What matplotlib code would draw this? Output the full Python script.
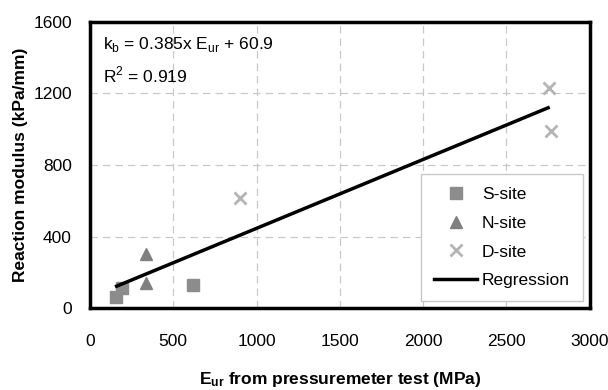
import numpy as np
import matplotlib.pyplot as plt

plt.rcParams['font.family'] = ['Liberation Sans', 'DejaVu Sans']
plt.rcParams['mathtext.fontset'] = 'custom'
plt.rcParams['mathtext.rm'] = 'Liberation Sans'
plt.rcParams['mathtext.bf'] = 'Liberation Sans:bold'

# data
s_x = [157, 193, 617]
s_y = [62, 113, 130]
n_x = [338, 338]
n_y = [300, 140]
d_x = [900, 2757, 2769]
d_y = [614, 1228, 991]
slope, intercept = 0.385, 60.9
reg_x = np.array([160, 2750])

fig = plt.figure(figsize=(6.08, 3.9), dpi=100)
ax = fig.add_axes([0.148, 0.21, 0.822, 0.734])

ax.plot(s_x, s_y, 's', color='#8c8c8c', ms=9, label='S-site', zorder=3)
ax.plot(n_x, n_y, '^', color='#808080', ms=9, label='N-site', zorder=3)
ax.plot(d_x, d_y, 'x', color='#b4b4b4', ms=9, mew=2, label='D-site', zorder=3)
ax.plot(reg_x, slope * reg_x + intercept, '-', color='black', lw=2.5,
        label='Regression', zorder=4)

ax.set_xlim(0, 3000)
ax.set_ylim(0, 1600)
ax.set_xticks(range(0, 3001, 500))
ax.set_yticks(range(0, 1601, 400))
ax.grid(True, ls=(0, (6, 4)), color='#c8c8c8', lw=0.9)
ax.set_axisbelow(True)
for sp in ax.spines.values():
    sp.set_linewidth(2.5)
ax.tick_params(length=0, labelsize=12.5)
ax.tick_params(axis='x', pad=19)
ax.tick_params(axis='y', pad=13)

ax.set_xlabel(r'$\mathbf{E_{ur}}$ from pressuremeter test (MPa)',
              fontsize=12.5, fontweight='bold', labelpad=15)
ax.set_ylabel('Reaction modulus (kPa/mm)', fontsize=12.5, fontweight='bold',
              labelpad=4)

ax.text(0.026, 0.92, r'k$_\mathregular{b}$ = 0.385x E$_\mathregular{ur}$ + 60.9',
        transform=ax.transAxes, fontsize=12.5, va='center')
ax.text(0.026, 0.815, r'R$^\mathregular{2}$ = 0.919',
        transform=ax.transAxes, fontsize=12.5, va='center')

leg = ax.legend(loc='lower right', bbox_to_anchor=(0.986, 0.024), fontsize=12.5,
                fancybox=False, framealpha=1, edgecolor='#c8c8c8',
                handlelength=2.5, handletextpad=0.25, borderpad=0.75,
                labelspacing=0.78, borderaxespad=0)
leg.get_frame().set_linewidth(1)

fig.savefig('out.png', dpi=100)
